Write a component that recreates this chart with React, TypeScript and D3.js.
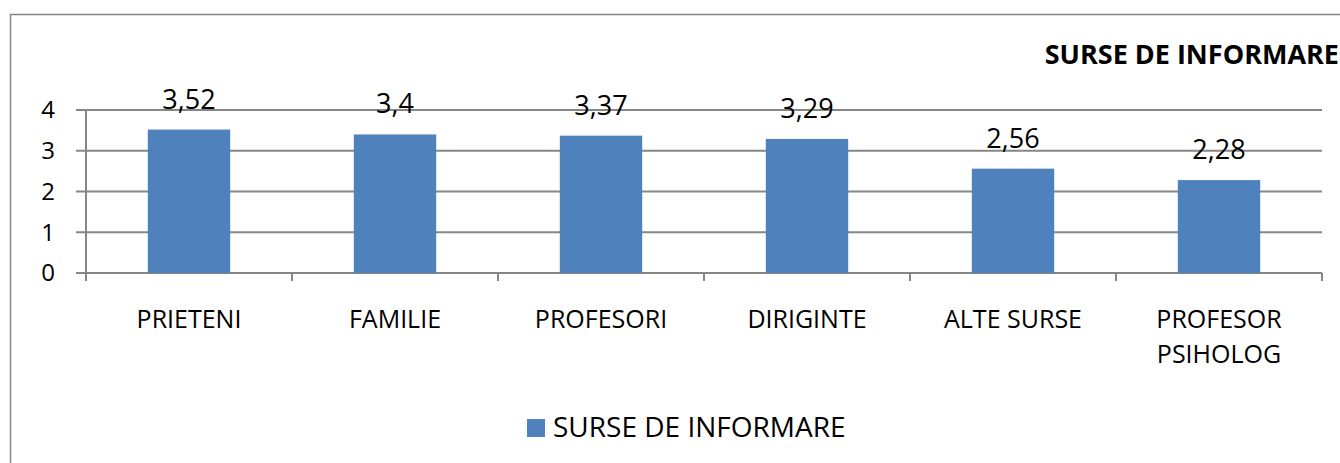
import React from "react";
import * as d3 from "d3";

const categories: string[][] = [
  ["PRIETENI"],
  ["FAMILIE"],
  ["PROFESORI"],
  ["DIRIGINTE"],
  ["ALTE SURSE"],
  ["PROFESOR", "PSIHOLOG"],
];
const values: number[] = [3.52, 3.4, 3.37, 3.29, 2.56, 2.28];
const valueLabels: string[] = ["3,52", "3,4", "3,37", "3,29", "2,56", "2,28"];
const yTicks: number[] = [0, 1, 2, 3, 4];
const seriesName = "SURSE DE INFORMARE";
const chartTitle = "SURSE DE INFORMARE";

const W = 1340;
const H = 463;
const FONT = "'Open Sans', sans-serif";
const BAR = "#4f81bd";
const GRID = "#868686";

export default function App() {
  const keys = categories.map((c) => c.join(" "));
  const x = d3
    .scaleBand<string>()
    .domain(keys)
    .range([86, 1322])
    .paddingInner(0.6)
    .paddingOuter(0.3);
  const y = d3.scaleLinear().domain([0, 4]).range([273, 110]);
  const step = x.step();
  const x0 = 86;

  return (
    <svg
      width={W}
      height={H}
      style={{ position: "absolute", left: 0, top: 0, background: "#fff" }}
      fontFamily={FONT}
    >
      <rect x={10.5} y={14.5} width={W + 20} height={H + 20} fill="#fff" stroke={GRID} strokeWidth={1.5} />

      {/* gridlines */}
      {yTicks.map((t) => (
        <line key={"g" + t} x1={76} x2={1322} y1={y(t)} y2={y(t)} stroke={GRID} strokeWidth={2} />
      ))}
      {/* y axis */}
      <line x1={x0} x2={x0} y1={y(4)} y2={y(0) + 8} stroke={GRID} strokeWidth={2} />
      {/* x ticks */}
      {d3.range(categories.length + 1).map((i) => (
        <line
          key={"xt" + i}
          x1={x0 + i * step}
          x2={x0 + i * step}
          y1={y(0)}
          y2={y(0) + 8}
          stroke={GRID}
          strokeWidth={2}
        />
      ))}
      {/* y tick labels */}
      {yTicks.map((t) => (
        <text key={"yl" + t} x={55} y={y(t)} dy="0.35em" textAnchor="end" fontSize={24} fill="#000">
          {t}
        </text>
      ))}
      {/* bars */}
      {values.map((v, i) => (
        <rect
          key={"b" + i}
          x={x(keys[i])!}
          y={y(v)}
          width={x.bandwidth()}
          height={y(0) - y(v)}
          fill={BAR}
        />
      ))}
      {/* value labels */}
      {values.map((v, i) => (
        <text
          key={"v" + i}
          x={x(keys[i])! + x.bandwidth() / 2}
          y={y(v) - 21}
          textAnchor="middle"
          fontSize={27}
          fill="#000"
        >
          {valueLabels[i]}
        </text>
      ))}
      {/* category labels */}
      {categories.map((lines, i) => (
        <text
          key={"c" + i}
          x={x(keys[i])! + x.bandwidth() / 2}
          y={328}
          textAnchor="middle"
          fontSize={25}
          fill="#000"
        >
          {lines.map((l, j) => (
            <tspan key={j} x={x(keys[i])! + x.bandwidth() / 2} y={328 + j * 35}>
              {l}
            </tspan>
          ))}
        </text>
      ))}
      {/* title */}
      <text x={1339} y={64} textAnchor="end" fontSize={27} fontWeight="bold" fill="#000">
        {chartTitle}
      </text>
      {/* legend */}
      <rect x={527} y={419} width={18} height={18} fill={BAR} />
      <text x={553} y={437} fontSize={28} fill="#000">
        {seriesName}
      </text>
    </svg>
  );
}
